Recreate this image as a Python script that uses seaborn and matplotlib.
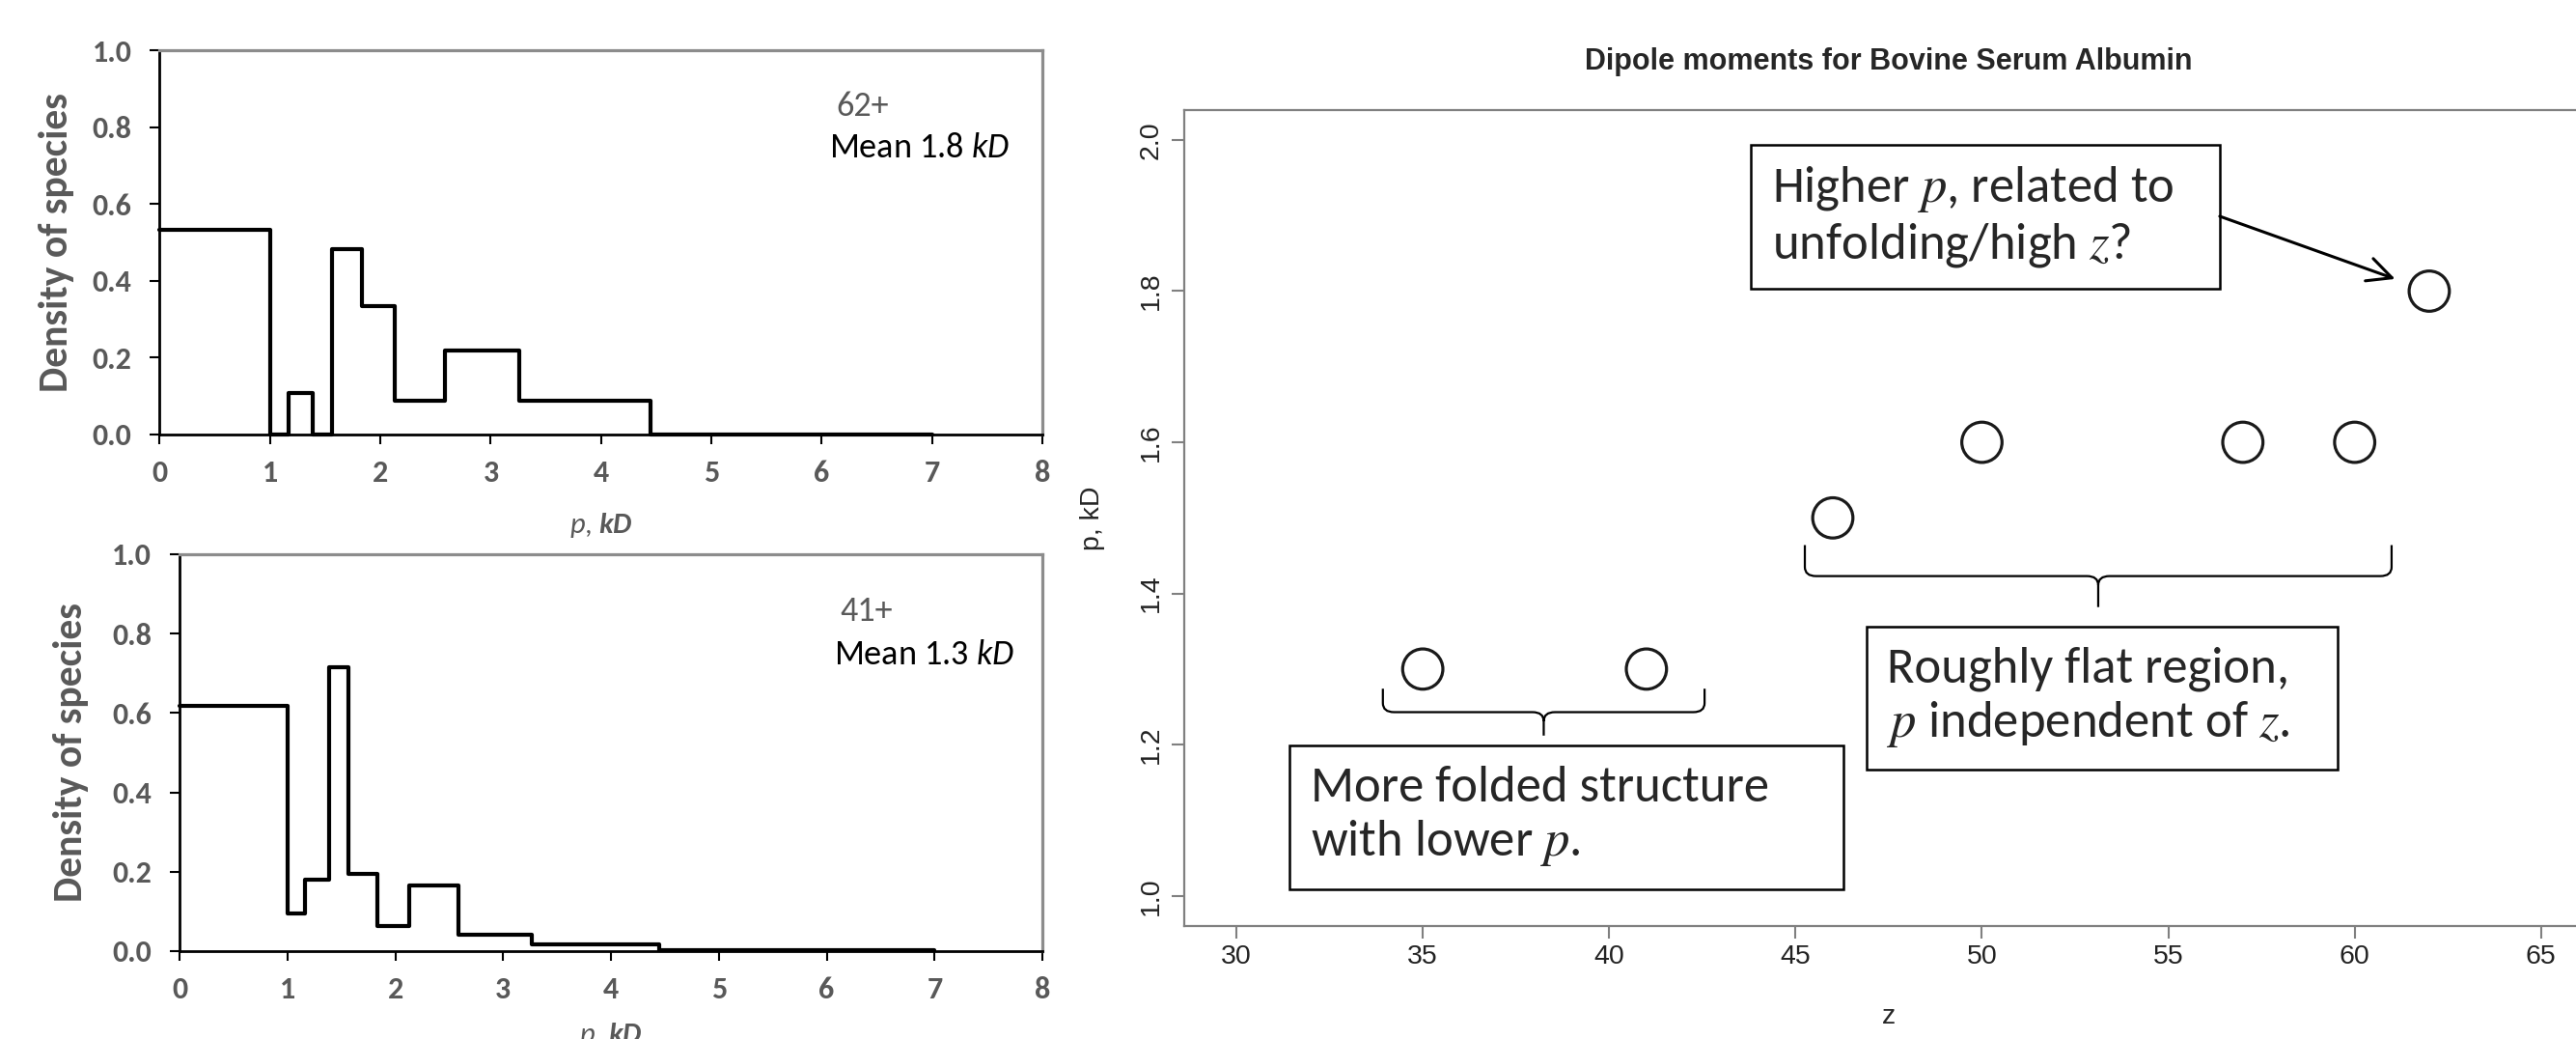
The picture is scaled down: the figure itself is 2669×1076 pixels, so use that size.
import numpy as np
import matplotlib
matplotlib.use('Agg')
import matplotlib.pyplot as plt
import seaborn as sns
from matplotlib import font_manager
from matplotlib.patches import Rectangle, PathPatch
from matplotlib.path import Path

# histogram bins shared by both charge states (p in kD)
p_edges = [0, 1.0, 1.167, 1.39, 1.563, 1.83, 2.13, 2.585, 3.263, 4.45, 7.0]
dens_62 = [0.533, 0.0, 0.108, 0.0, 0.483, 0.334, 0.089, 0.218, 0.089, 0.0]
dens_41 = [0.619, 0.094, 0.179, 0.714, 0.195, 0.062, 0.166, 0.041, 0.018, 0.002]

# dipole moment against charge state
z_vals = [35, 41, 46, 50, 57, 60, 62]
p_vals = [1.3, 1.3, 1.5, 1.6, 1.6, 1.6, 1.8]
z_ticks = [30, 35, 40, 45, 50, 55, 60, 65]
p_ticks = [1.0, 1.2, 1.4, 1.6, 1.8, 2.0]

sns.set_style('white')
avail = {f.name for f in font_manager.fontManager.ttflist}


def pick(*names):
    for n in names:
        if n in avail:
            return n
    return 'DejaVu Sans'


cal = pick('Carlito', 'Liberation Sans Narrow', 'Liberation Sans')
arial = pick('Liberation Sans', 'Arimo', 'DejaVu Sans')
k = {'Carlito': 1.0, 'Liberation Sans Narrow': 1.05}.get(cal, 0.88)

plt.rcParams['font.family'] = [arial, 'DejaVu Sans']
plt.rcParams['mathtext.fontset'] = 'custom'
plt.rcParams['mathtext.rm'] = cal
plt.rcParams['mathtext.it'] = cal + ':italic'
plt.rcParams['mathtext.bf'] = cal + ':bold'
if 'mathtext.bfit' in plt.rcParams:
    plt.rcParams['mathtext.bfit'] = cal + ':italic:bold'

grey = '#595959'
fig = plt.figure(figsize=(26.69, 10.76), dpi=100)
ax1 = fig.add_axes([0.0620, 0.5818, 0.3426, 0.3695])
ax2 = fig.add_axes([0.0697, 0.0846, 0.3350, 0.3820])
ax3 = fig.add_axes([0.4597, 0.1087, 0.5470, 0.7857])


def hist_panel(ax, dens, state, mean, ylab_x, xlab_y):
    centers = [(a + b) / 2 for a, b in zip(p_edges[:-1], p_edges[1:])]
    sns.histplot(x=centers, weights=dens, bins=p_edges, element='step',
                 fill=False, color='black', linewidth=3.0, ax=ax)
    ax.lines[-1].set_clip_on(False)
    ax.set_xlim(0, 8)
    ax.set_ylim(0, 1)
    tk = dict(fontfamily=cal, fontweight='bold', fontsize=23 * k, color=grey)
    ax.set_xticks(range(9), [str(i) for i in range(9)], **tk)
    yt = np.arange(0, 1.01, 0.2)
    ax.set_yticks(yt, [f'{v:.1f}' for v in yt], **tk)
    ax.tick_params(axis='both', direction='out', length=7, width=1.5, color='black')
    ax.tick_params(axis='x', pad=12, bottom=True)
    ax.tick_params(axis='y', pad=14, left=True)
    for s in ['left', 'bottom']:
        ax.spines[s].set_color('black')
        ax.spines[s].set_linewidth(2)
    for s in ['top', 'right']:
        ax.spines[s].set_color('#8c8c8c')
        ax.spines[s].set_linewidth(2.3)
    ax.set_ylabel('Density of species', fontsize=30 * k, fontweight='bold',
                  color=grey, fontfamily=cal)
    ax.yaxis.set_label_coords(ylab_x, 0.5)
    ax.set_xlabel(r'$\mathit{p}$, $\mathbfit{kD}$', fontsize=22 * k, color=grey,
                  fontfamily=cal)
    ax.xaxis.set_label_coords(0.5, xlab_y)
    ax.text(6.37, 0.856, state, ha='center', va='center', color=grey,
            fontsize=26 * k, fontfamily=cal)
    ax.text(6.07, 0.748, 'Mean ' + mean + r' $\mathit{kD}$', ha='left', va='center',
            color='black', fontsize=26 * k, fontfamily=cal)


hist_panel(ax1, dens_62, '62+', '1.8', -0.097, -0.2)
hist_panel(ax2, dens_41, '41+', '1.3', -0.105, -0.175)

# right panel, R-style scatter
sns.scatterplot(x=z_vals, y=p_vals, ax=ax3, s=900, marker='o', facecolor='none',
                edgecolor='#1a1a1a', linewidth=2.3, legend=False)
zp = (z_ticks[-1] - z_ticks[0]) * 0.04
pp = (p_ticks[-1] - p_ticks[0]) * 0.04
ax3.set_xlim(z_ticks[0] - zp, z_ticks[-1] + zp)
ax3.set_ylim(p_ticks[0] - pp, p_ticks[-1] + pp)
ax3.set_xticks(z_ticks, [str(v) for v in z_ticks], fontsize=20.5, color='#222222')
ax3.set_yticks(p_ticks, [f'{v:.1f}' for v in p_ticks], fontsize=20.5, color='#222222',
               rotation=90, va='center')
ax3.tick_params(axis='both', direction='out', length=9.5, width=1.5, color='#808080')
ax3.tick_params(axis='x', pad=4, bottom=True)
ax3.tick_params(axis='y', pad=6, left=True)
for s in ax3.spines.values():
    s.set_color('#808080')
    s.set_linewidth(1.6)
ax3.set_title('Dipole moments for Bovine Serum Albumin', fontsize=22,
              fontweight='bold', pad=30)
ax3.set_xlabel('z', fontsize=20.5)
ax3.set_ylabel('p, kD', fontsize=20.5)
ax3.xaxis.set_label_coords(0.5, -0.096)
ax3.yaxis.set_label_coords(-0.056, 0.5)

# annotation boxes: (left, right, bottom, top), text start, text
boxes = [
    ((43.80, 56.38, 1.803, 1.9936), 44.36, 'Higher $p$, related to\nunfolding/high $z$?'),
    ((46.90, 59.54, 1.1675, 1.3555), 47.45, 'Roughly flat region,\n$p$ independent of $z$.'),
    ((31.42, 46.28, 1.009, 1.1995), 31.99, 'More folded structure\nwith lower $p$.'),
]
for (x0, x1, y0, y1), tx, txt in boxes:
    ax3.add_patch(Rectangle((x0, y0), x1 - x0, y1 - y0, fill=False,
                            edgecolor='black', linewidth=1.8, zorder=3))
    ax3.text(tx, (y0 + y1) / 2, txt, ha='left', va='center', fontsize=38 * k,
             fontfamily=cal, math_fontfamily='stix', linespacing=1.2, zorder=4)

# curly braces: z span, tip, bar, spike level
braces = [((45.25, 60.99), 1.464, 1.423, 1.382),
          ((33.93, 42.56), 1.274, 1.243, 1.212)]
for (x0, x1), yt, yb, ym in braces:
    xc = (x0 + x1) / 2
    d, e = 0.3, 0.012
    verts = [(x0, yt), (x0, yb + e), (x0, yb), (x0 + d, yb), (xc - d, yb),
             (xc, yb), (xc, yb - e), (xc, ym),
             (xc, yb - e), (xc, yb), (xc + d, yb), (x1 - d, yb),
             (x1, yb), (x1, yb + e), (x1, yt)]
    codes = [Path.MOVETO, Path.LINETO, Path.CURVE3, Path.CURVE3, Path.LINETO,
             Path.CURVE3, Path.CURVE3, Path.LINETO,
             Path.MOVETO, Path.CURVE3, Path.CURVE3, Path.LINETO,
             Path.CURVE3, Path.CURVE3, Path.LINETO]
    ax3.add_patch(PathPatch(Path(verts, codes), fill=False, edgecolor='black',
                            linewidth=1.6, zorder=3))

ax3.annotate('', xy=(z_vals[-1], p_vals[-1]), xytext=(56.38, 1.899),
             arrowprops=dict(arrowstyle='->,head_length=0.45,head_width=0.22',
                             mutation_scale=40, color='black', lw=2.2,
                             shrinkA=0, shrinkB=27))

fig.savefig('out.png', dpi=100)
